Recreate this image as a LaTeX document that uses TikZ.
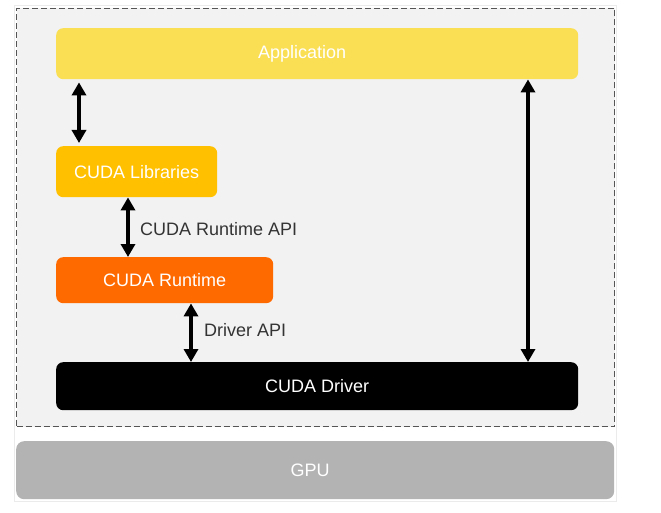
\documentclass[tikz,border=0pt]{standalone}
\usepackage{fontspec}
\setmainfont{Liberation Sans}
\usetikzlibrary{arrows.meta}
\definecolor{bgpanel}{HTML}{F2F2F2}
\definecolor{appcol}{HTML}{FADF55}
\definecolor{libcol}{HTML}{FFC000}
\definecolor{rtcol}{HTML}{FF6A00}
\definecolor{gpucol}{HTML}{B3B3B3}
\definecolor{dashcol}{HTML}{555555}
\definecolor{labcol}{HTML}{333333}
\definecolor{framecol}{HTML}{EBEBEB}
\tikzset{
  layer/.style={rectangle, rounded corners=7pt, inner sep=0pt, anchor=north west,
    text=white, font=\fontsize{18}{22}\selectfont},
  dbl/.style={{Triangle[width=14pt,length=13pt]}-{Triangle[width=14pt,length=13pt]}, line width=4.2pt, black},
  apilabel/.style={anchor=west, text=labcol, font=\fontsize{18}{22}\selectfont, inner sep=0pt}
}
\begin{document}
\begin{tikzpicture}[x=1pt,y=-1pt]
\useasboundingbox (0,0) rectangle (661,513);
% faint outer frame
\draw[framecol, line width=0.8pt] (14,5) rectangle (616,501);
% host panel
\node[rectangle, fill=bgpanel, draw=dashcol, line width=1pt, dash pattern=on 6pt off 3pt,
  minimum width=598pt, minimum height=418pt, anchor=north west, inner sep=0pt] (host) at (16,8) {};
% layers
\node[layer, fill=appcol, minimum width=522pt, minimum height=51pt,
  label={[text=white, font=\fontsize{18}{22}\selectfont, xshift=-15pt]center:Application}] (app) at (56,28) {};
\node[layer, fill=libcol, minimum width=161pt, minimum height=51pt] (lib) at (56,146) {CUDA Libraries};
\node[layer, fill=rtcol, minimum width=217pt, minimum height=46pt] (rt) at (56,257) {CUDA Runtime};
\node[layer, fill=black, minimum width=522pt, minimum height=48pt] (drv) at (56,362) {CUDA Driver};
\node[layer, fill=gpucol, rounded corners=8pt, minimum width=598pt, minimum height=58pt,
  label={[text=white, font=\fontsize{18}{22}\selectfont, xshift=-5pt]center:GPU}] (gpu) at (16,441) {};
% arrows
\draw[dbl] ([xshift=23pt,yshift=-3pt]app.south west) -- ([xshift=23pt,yshift=3pt]lib.north west);
\draw[dbl] ([xshift=72pt]lib.south west) -- ([xshift=72pt]rt.north west);
\draw[dbl] ([xshift=135pt]rt.south west) -- ([xshift=135pt]drv.north west);
\draw[dbl] ([xshift=472pt]app.south west) -- ([xshift=472pt]drv.north west);
% labels
\node[apilabel] (rtapi) at (140,229) {CUDA Runtime API};
\node[apilabel] (drvapi) at (204,330) {Driver API};
\end{tikzpicture}
\end{document}
